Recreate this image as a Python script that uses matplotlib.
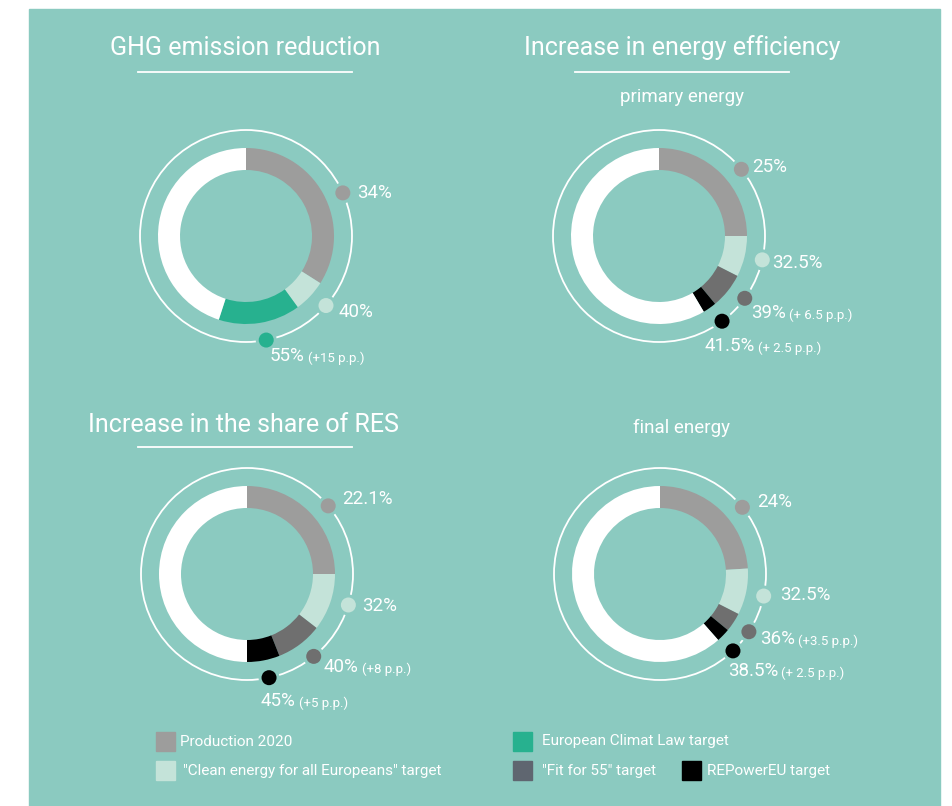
import numpy as np
import matplotlib
matplotlib.use("Agg")
import matplotlib.pyplot as plt
from matplotlib.patches import Wedge, Circle, Rectangle

plt.rcParams['font.family'] = ['Roboto', 'DejaVu Sans']

# ---- data (cumulative shares in %, clockwise from 12 o'clock) ----
ghg_ring = [34, 40, 55]
ghg_labels = ["34%", "40%", "55%"]
ghg_notes = ["", "", "(+15 p.p.)"]

primary_ring = [25, 32.5, 39, 41.5]
primary_labels = ["25%", "32.5%", "39%", "41.5%"]
primary_notes = ["", "", "(+ 6.5 p.p.)", "(+ 2.5 p.p.)"]

# RES ring as drawn in the picture (the arcs are not to scale with the labels)
res_ring = [25, 35.5, 44, 50]
res_labels = ["22.1%", "32%", "40%", "45%"]
res_notes = ["", "", "(+8 p.p.)", "(+5 p.p.)"]

final_ring = [24, 32.5, 36, 38.5]
final_labels = ["24%", "32.5%", "36%", "38.5%"]
final_notes = ["", "", "(+3.5 p.p.)", "(+ 2.5 p.p.)"]

legend_names = ["Production 2020", "\"Clean energy for all Europeans\" target",
                "European Climat Law target", "\"Fit for 55\" target", "REPowerEU target"]

# ---- styles ----
BG = '#8bcac0'
GRAY = '#9d9d9c'
LIGHT = '#c4e3d9'
GREEN = '#27b18f'
DARK = '#6f6f6f'
BLACK = '#000000'
FIT = '#5f6670'

ghg_colors = [GRAY, LIGHT, GREEN]
eff_colors = [GRAY, LIGHT, DARK, BLACK]

fig = plt.figure(figsize=(9.53, 8.06), dpi=100)
fig.patch.set_facecolor('white')
ax = fig.add_axes([0, 0, 1, 1])
ax.set_xlim(0, 953)
ax.set_ylim(806, 0)
ax.axis('off')

ax.add_patch(Rectangle((29, 9), 911, 800, color=BG, zorder=0))

R_OUT, WIDTH, R_CIRC, R_DOT = 88, 22, 106, 7.5


def donut(cx, cy, ring, colors, labels, notes, dot_ang, lab_pos):
    # clockwise angle a from top -> data angle a - 90 (y axis is inverted)
    starts = [0] + ring
    ends = ring + [100]
    cols = colors + ['white']
    for s, e, c in zip(starts, ends, cols):
        ax.add_patch(Wedge((cx, cy), R_OUT, s * 3.6 - 90, e * 3.6 - 90,
                           width=WIDTH, facecolor=c, edgecolor='none', zorder=2))
    ax.add_patch(Circle((cx, cy), R_CIRC, fill=False, edgecolor='white', lw=1.3, zorder=2))
    for a, c, lab, note, (lx, ly) in zip(dot_ang, colors, labels, notes, lab_pos):
        t = np.radians(a)
        px, py = cx + R_CIRC * np.sin(t), cy - R_CIRC * np.cos(t)
        ax.add_patch(Circle((px, py), R_DOT + 3, facecolor=BG, edgecolor='none', zorder=3))
        ax.add_patch(Circle((px, py), R_DOT, facecolor=c, edgecolor='none', zorder=3))
        txt = ax.text(lx, ly, lab, color='white', fontsize=13.5, ha='left', va='center', zorder=4)
        if note:
            fig.canvas.draw()
            bb = txt.get_window_extent()
            ax.annotate(note, xy=(bb.x1 + 3, fig.bbox.height - (ly + 2)), xycoords='figure pixels',
                        color='white', fontsize=9.5, ha='left', va='center')


def title(x, y, s, x0, x1, uy):
    ax.text(x, y, s, color='white', fontsize=18, ha='center', va='center')
    ax.plot([x0, x1], [uy, uy], color='white', lw=1.3)


title(245, 48, "GHG emission reduction", 138, 352, 72)
title(682, 48, "Increase in energy efficiency", 575, 789, 72)
title(243, 425, "Increase in the share of RES", 138, 352, 447)
ax.text(682, 97, "primary energy", color='white', fontsize=13.5, ha='center', va='center')
ax.text(682, 428, "final energy", color='white', fontsize=13.5, ha='center', va='center')

donut(246, 236, ghg_ring, ghg_colors, ghg_labels, ghg_notes,
      [66, 131, 169], [(357, 193), (339, 312), (270, 356)])
donut(659, 236, primary_ring, eff_colors, primary_labels, primary_notes,
      [51, 103, 126, 143.5], [(752, 167), (772, 263), (751, 313), (705, 346)])
donut(247, 574, res_ring, eff_colors, res_labels, res_notes,
      [50, 107, 141, 168], [(342, 499), (362, 606), (324, 667), (261, 701)])
donut(660, 574, final_ring, eff_colors, final_labels, final_notes,
      [51, 102, 123, 136.5], [(757, 502), (780, 595), (760, 639), (728, 671)])

# legend
leg_colors = [GRAY, LIGHT, GREEN, FIT, BLACK]
leg_pos = [(156, 732, 180), (156, 761, 183), (513, 732, 542), (513, 761, 542), (682, 761, 707)]
for name, c, (sx, sy, tx) in zip(legend_names, leg_colors, leg_pos):
    ax.add_patch(Rectangle((sx, sy), 19, 19, color=c, zorder=2))
    ax.text(tx, sy + 9.5, name, color='white', fontsize=11, ha='left', va='center')

fig.savefig('out.png', dpi=100, facecolor='white')
